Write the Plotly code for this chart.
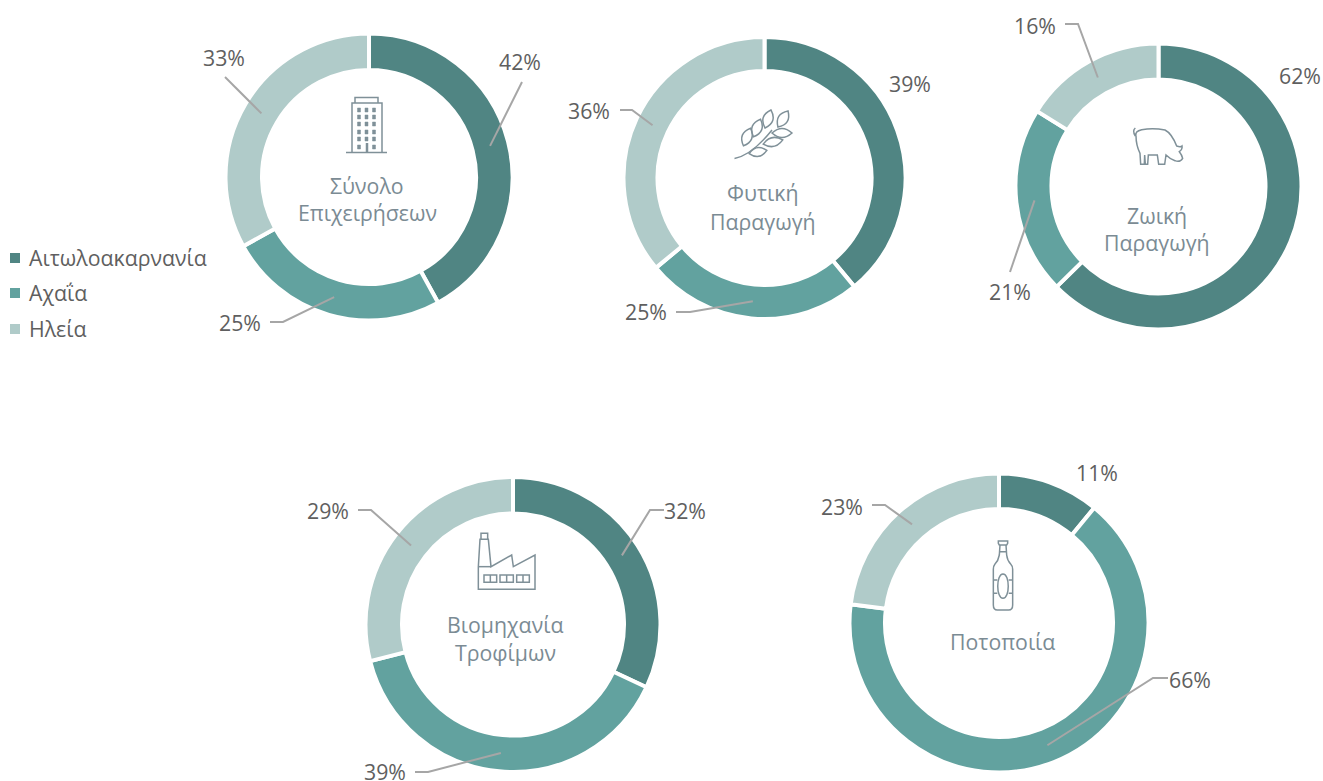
import math
import re
import plotly.graph_objects as go

W, H = 1323, 781
FONT = "Open Sans"
FS = 21.3

regions = ["Αιτωλοακαρνανία", "Αχαΐα", "Ηλεία"]
colors = ["#508583", "#62a29f", "#b0cbc9"]

titles = [["Σύνολο", "Επιχειρήσεων"], ["Φυτική", "Παραγωγή"], ["Ζωική", "Παραγωγή"],
          ["Βιομηχανία", "Τροφίμων"], ["Ποτοποιία"]]
total_firms = [42, 25, 33]
crop_production = [39, 25, 36]
animal_production = [62, 21, 16]
food_industry = [32, 39, 29]
beverages = [11, 66, 23]
series = [total_firms, crop_production, animal_production, food_industry, beverages]

# ring geometry in pixels: centre x, centre y, outer radius, inner radius
rings = [(369, 177, 142, 108), (764.5, 178, 139.5, 108), (1158.5, 186.5, 141.5, 108),
         (513, 624.5, 146, 112), (999, 623, 148, 115)]
# title centre (x, y of first line)
title_pos = [(367, 185), (763, 193), (1157, 215), (505, 624), (1002, 641)]
# for every slice: label centre, and the elbow points of its leader (empty = no leader)
label_pos = [
    [(520, 62), (240, 322), (224, 58)],
    [(910, 84), (646, 311), (589, 111)],
    [(1300, 75), (1010, 291), (1035, 25)],
    [(685, 511), (385, 771), (328, 511)],
    [(1097, 472), (1190, 679), (842, 506)],
]
leaders = [
    [[(522, 82)], [(270, 322), (283, 322)], [(225, 77)]],
    [[], [(676, 312), (690, 312)], [(620, 110), (632, 110)]],
    [[], [(1010, 272)], [(1065, 24), (1078, 24)]],
    [[(664, 510), (650, 510)], [(415, 772), (428, 772)], [(358, 510), (371, 510)]],
    [[], [(1168, 678), (1153, 678)], [(872, 505), (885, 505)]],
]
legend_pos = [(15, 257), (15, 292), (15, 328)]

ICON = "#7f9098"
LEADER = "#a6a6a6"
TEXT = "#5f5f5f"
TITLE = "#7b8b94"


def px(x):
    return x / W


def py(y):
    return 1 - y / H


def path(d, ox=0.0, oy=0.0, s=1.0):
    """Turn an absolute pixel path into paper coordinates."""
    out, is_x = [], True
    for tok in re.findall(r"[MLCQZ]|-?\d+\.?\d*", d):
        if tok in "MLCQZ":
            out.append(tok)
            is_x = True
        elif is_x:
            out.append(f"{px(ox + float(tok) * s):.6f}")
            is_x = False
        else:
            out.append(f"{py(oy + float(tok) * s):.6f}")
            is_x = True
    return " ".join(out)


shapes, annotations = [], []


def icon(d, ox=0.0, oy=0.0, s=1.0, fill="rgba(0,0,0,0)", lw=1.5):
    shapes.append(dict(type="path", xref="paper", yref="paper", path=path(d, ox, oy, s),
                       line=dict(color=ICON, width=lw), fillcolor=fill, layer="above"))


def leaf(cx, cy, deg, L, w):
    a = math.radians(deg)
    ux, uy = math.cos(a), -math.sin(a)
    nx, ny = -uy, ux
    p0 = (cx - ux * L, cy - uy * L)
    p1 = (cx + ux * L, cy + uy * L)
    c1 = (cx + nx * 2 * w, cy + ny * 2 * w)
    c2 = (cx - nx * 2 * w, cy - ny * 2 * w)
    return (f"M {p0[0]:.2f} {p0[1]:.2f} Q {c1[0]:.2f} {c1[1]:.2f} {p1[0]:.2f} {p1[1]:.2f} "
            f"Q {c2[0]:.2f} {c2[1]:.2f} {p0[0]:.2f} {p0[1]:.2f} Z")


# pies
fig = go.Figure()
for vals, (cx, cy, ro, ri) in zip(series, rings):
    r = ro + 1.5
    fig.add_trace(go.Pie(
        labels=regions, values=vals, sort=False, direction="clockwise", rotation=0,
        hole=(ri - 1) / r, textinfo="none", hoverinfo="label+percent",
        marker=dict(colors=colors, line=dict(color="white", width=4)),
        domain=dict(x=[px(cx - r), px(cx + r)], y=[py(cy + r), py(cy - r)]),
        showlegend=False,
    ))

# percentage labels and leaders, anchored on each slice's mid-angle
for vals, ring, labs, leads in zip(series, rings, label_pos, leaders):
    cx, cy, ro, ri = ring
    total = sum(vals)
    cum = 0
    for v, (lx, ly), lead in zip(vals, labs, leads):
        mid = (cum + v / 2) / total * 2 * math.pi
        cum += v
        annotations.append(dict(text=f"{v}%", x=px(lx), y=py(ly), xref="paper", yref="paper",
                                showarrow=False, xanchor="center", yanchor="middle",
                                font=dict(family=FONT, size=FS, color=TEXT)))
        if lead:
            rm = (ro + ri) / 2
            ex, ey = cx + rm * math.sin(mid), cy - rm * math.cos(mid)
            pts = lead + [(ex, ey)]
            d = "M " + " L ".join(f"{a:.2f} {b:.2f}" for a, b in pts)
            shapes.append(dict(type="path", xref="paper", yref="paper", path=path(d),
                               line=dict(color=LEADER, width=2), layer="above"))

# centre titles
for lines, (tx, ty) in zip(titles, title_pos):
    for i, line in enumerate(lines):
        annotations.append(dict(text=line, x=px(tx), y=py(ty + 28 * i), xref="paper", yref="paper",
                                showarrow=False, xanchor="center", yanchor="middle",
                                font=dict(family=FONT, size=FS, color=TITLE)))

# legend
for name, col, (lx, ly) in zip(regions, colors, legend_pos):
    shapes.append(dict(type="rect", xref="paper", yref="paper", x0=px(lx - 5), x1=px(lx + 5),
                       y0=py(ly + 6), y1=py(ly - 4), fillcolor=col, line=dict(width=0)))
    annotations.append(dict(text=name, x=px(lx + 12), y=py(ly), xref="paper", yref="paper",
                            showarrow=False, xanchor="left", yanchor="middle",
                            font=dict(family=FONT, size=FS, color=TEXT)))

# building icon
icon("M 346 152.5 L 387 152.5")
icon("M 352 152 L 352 103 L 382 103 L 382 152")
icon("M 355 103 L 355 97.5 L 378 97.5 L 378 103")
icon("M 367 152 L 367 143", lw=2.5)
for wy in (110, 117, 124, 132, 139, 147):
    for wx in (359, 366.5, 374):
        if wy == 147 and wx == 366.5:
            continue
        icon(f"M {wx-1.5} {wy-2} L {wx+1.5} {wy-2} L {wx+1.5} {wy+2} L {wx-1.5} {wy+2} Z",
             fill=ICON, lw=0.5)

# wheat icon
icon("M 734.5 158.5 Q 752 155 772 130")
for cx_, cy_, ang, L, w_ in [(747, 137, 68, 9.5, 5), (757, 128, 68, 9.5, 5), (768, 119, 72, 9.5, 5),
                             (783, 119, 58, 9.5, 5), (758, 152, 10, 9, 4.5), (773, 142, 12, 10, 4.5),
                             (782, 133, 0, 10, 4.5)]:
    icon(leaf(cx_, cy_, ang, L, w_))

# pig icon (drawn in crop coordinates)
icon("M 106 54 Q 96 62 106 78 M 108 78 Q 104 64 125 59 Q 160 53 195 60 Q 215 70 230 108 "
     "Q 242 112 246 108 Q 248 118 238 125 Q 246 135 248 145 Q 240 158 225 152 Q 210 147 198 135 "
     "L 194 163 L 176 163 L 172 135 L 145 135 L 143 163 L 136 163 L 134 135 L 133 163 L 122 163 L 120 130 "
     "Q 108 105 108 78",
     ox=1100, oy=110, s=1 / 3)

# factory icon
icon("M 55 140 L 55 208 L 225 208 L 225 105 L 160 140 L 155 105 L 93 140 L 85 58 L 60 58 L 55 140 Z",
     ox=460, oy=520, s=1 / 3)
icon("M 63 58 L 63 40 L 83 40 L 83 58", ox=460, oy=520, s=1 / 3)
icon("M 55 140 L 93 140", ox=460, oy=520, s=1 / 3)
for x0, x1 in ((72, 110), (120, 160), (170, 208)):
    xm = (x0 + x1) / 2
    icon(f"M {x0} 165 L {x1} 165 L {x1} 187 L {x0} 187 Z M {xm} 165 L {xm} 187",
         ox=460, oy=520, s=1 / 3)

# bottle icon
icon("M 88 45 L 85 40 L 85 33 L 113 33 L 113 40 L 110 45 Z", ox=970, oy=530, s=1 / 3)
icon("M 90 45 L 88 75 Q 85 92 75 102 Q 70 108 70 118 L 70 225 Q 70 240 82 240 L 116 240 "
     "Q 128 240 128 225 L 128 118 Q 128 108 122 102 Q 112 92 110 75 L 108 45",
     ox=970, oy=530, s=1 / 3)
icon("M 90 65 L 108 65 M 70 150 L 82 150 M 116 150 L 128 150 M 70 190 L 82 190 M 116 190 L 128 190",
     ox=970, oy=530, s=1 / 3)
icon("M 99 132 C 120 132 120 205 99 205 C 78 205 78 132 99 132 Z", ox=970, oy=530, s=1 / 3)

fig.update_layout(width=W, height=H, margin=dict(l=0, r=0, t=0, b=0, autoexpand=False),
                  paper_bgcolor="white", plot_bgcolor="white",
                  font=dict(family=FONT), shapes=shapes, annotations=annotations)
fig.write_html("out.html", config={"displayModeBar": False},
               post_script="document.body.style.margin='0';document.body.style.overflow='hidden';")
